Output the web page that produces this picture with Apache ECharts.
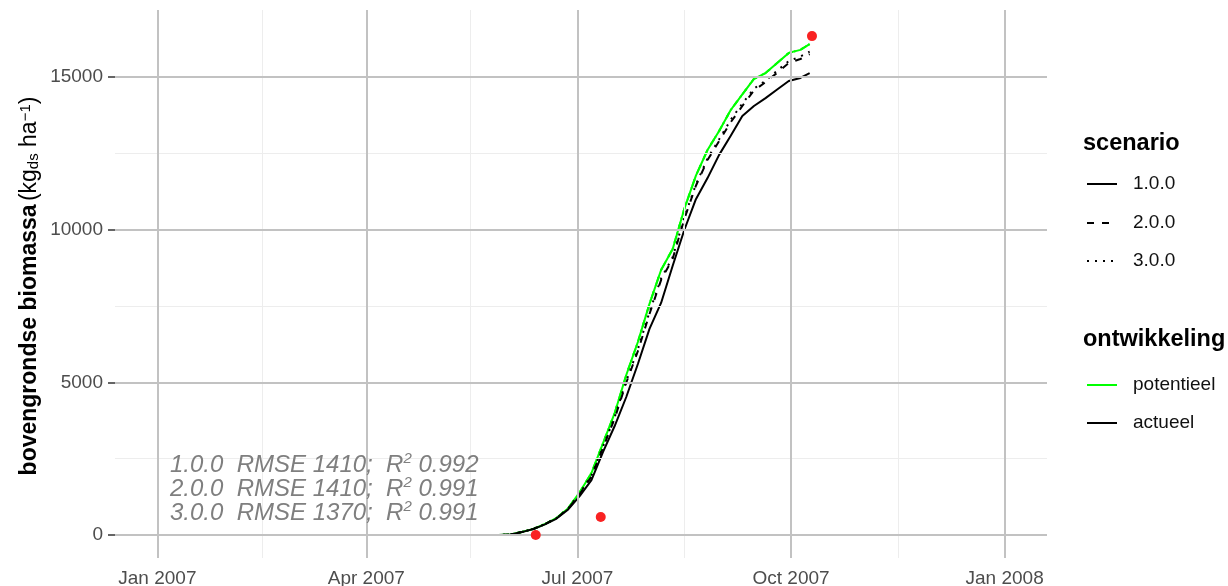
<!DOCTYPE html>
<html>
<head>
<meta charset="utf-8">
<script src="https://cdn.jsdelivr.net/npm/echarts@6/dist/echarts.min.js"></script>
<style>
html,body{margin:0;padding:0;background:#fff;}
#chart{width:1228px;height:586px;}
</style>
</head>
<body>
<div id="chart"></div>
<script>
// ---- data ----
const dates = ['2007-05-23','2007-05-28','2007-06-02','2007-06-07','2007-06-12','2007-06-17','2007-06-22','2007-06-27','2007-07-02','2007-07-07','2007-07-12','2007-07-17','2007-07-22','2007-07-27','2007-08-01','2007-08-06','2007-08-11','2007-08-16','2007-08-21','2007-08-26','2007-08-31','2007-09-05','2007-09-10','2007-09-15','2007-09-20','2007-09-25','2007-09-30','2007-10-05','2007-10-09'];
const potentieel = [0,0,15,100,200,360,560,880,1410,2030,3010,3990,5240,6320,7570,8680,9370,10680,11770,12610,13230,13920,14430,14940,15130,15460,15790,15890,16080];
const actueel_1 = [0,0,15,95,195,350,540,840,1280,1800,2720,3570,4520,5600,6750,7600,8820,9990,11000,11690,12450,13080,13720,14050,14310,14590,14870,14970,15130];
const actueel_2 = [0,0,15,100,200,358,555,860,1350,1910,2860,3810,4990,6020,7240,8350,9050,10350,11440,12280,12900,13520,14050,14560,14830,15140,15460,15590,15750];
const actueel_3 = [0,0,15,100,200,360,558,870,1370,1950,2900,3860,5040,6080,7300,8400,9100,10400,11480,12330,12960,13600,14130,14620,14880,15210,15520,15670,15830];
const obsDates = ['2007-06-13','2007-07-11','2007-10-10'];
const obsValues = [0, 590, 16340];
const xTickDates = ['2007-01-01','2007-04-01','2007-07-01','2007-10-01','2008-01-01'];
const xTickLabels = ['Jan 2007','Apr 2007','Jul 2007','Oct 2007','Jan 2008'];
const xMinorDates = ['2007-02-15','2007-05-16','2007-08-16','2007-11-16'];
const yTicks = [0, 5000, 10000, 15000];
const yMinor = [2500, 7500, 12500];
const scenarioLabels = ['1.0.0','2.0.0','3.0.0'];
const devLabels = ['potentieel','actueel'];
const statScen = ['1.0.0','2.0.0','3.0.0'];
const statRmse = ['1410','1410','1370'];
const statR2 = ['0.992','0.991','0.991'];

// ---- helpers ----
function ts(s){ const p = s.split('-').map(Number); return Date.UTC(p[0], p[1]-1, p[2]); }
const DAY = 86400000;
const FONT = 'Liberation Sans, Arial, sans-serif';
const xMin = ts('2007-01-01') - 18.25*DAY;
const xMax = ts('2008-01-01') + 18.25*DAY;
const xTickVals = xTickDates.map(ts);
const dashStyles = ['solid', [7,8], [2,6]];

const chart = echarts.init(document.getElementById('chart'), null, {renderer:'canvas'});

const gridLines = [];
xMinorDates.forEach(d => gridLines.push({xAxis: ts(d), lineStyle:{color:'#ededed', width:1, type:'solid'}}));
yMinor.forEach(v => gridLines.push({yAxis: v, lineStyle:{color:'#ededed', width:1, type:'solid'}}));
xTickVals.forEach(v => gridLines.push({xAxis: v, lineStyle:{color:'#c2c2c2', width:2, type:'solid'}}));
yTicks.forEach(v => gridLines.push({yAxis: v, lineStyle:{color:'#c2c2c2', width:2, type:'solid'}}));

const series = [{
  type:'line', data:[[xMin, -5000]], showSymbol:false, silent:true, z:1,
  lineStyle:{width:0},
  markLine:{silent:true, symbol:'none', animation:false, label:{show:false}, lineStyle:{type:'solid'}, data: gridLines}
}];
const pair = arr => dates.map((d,i) => [ts(d), arr[i]]);
scenarioLabels.forEach((s, i) => {
  series.push({type:'line', name:'potentieel '+s, data: pair(potentieel), showSymbol:false, symbol:'none', silent:true, z:3,
    lineStyle:{color:'#00ff00', width:2, type: dashStyles[i], cap:'butt'}});
});
[actueel_1, actueel_2, actueel_3].forEach((arr, i) => {
  series.push({type:'line', name:'actueel '+scenarioLabels[i], data: pair(arr), showSymbol:false, symbol:'none', silent:true, z:4,
    lineStyle:{color:'#000000', width:2, type: dashStyles[i], cap:'butt'}});
});
series.push({type:'scatter', name:'obs', data: obsDates.map((d,i)=>[ts(d), obsValues[i]]), symbolSize:10, silent:true, z:5,
  itemStyle:{color:'#f92222', opacity:1}});

// ---- graphic: y title, annotation, legend ----
const graphic = [];
graphic.push({
  type:'text', x:30, y:286, rotation: Math.PI/2, z:100,
  style:{
    text:'{b|bovengrondse biomassa} {n|(kg}{sub|ds}{n| ha}{sup|−1}{n|)}',
    align:'center', verticalAlign:'middle',
    rich:{
      b:{fontSize:23, fontWeight:'bold', fontFamily:FONT, fill:'#000'},
      n:{fontSize:23, fontFamily:FONT, fill:'#000'},
      sub:{fontSize:15, fontFamily:FONT, fill:'#000', verticalAlign:'bottom'},
      sup:{fontSize:15, fontFamily:FONT, fill:'#000', verticalAlign:'top'}
    }
  }
});
const annLineY = [465, 489, 513];
statScen.forEach((s, i) => {
  graphic.push({
    type:'text', x:170, y:annLineY[i], z:100,
    style:{
      text:'{m|' + s + '  RMSE ' + statRmse[i] + ';  R}{s|2}{m| ' + statR2[i] + '}',
      align:'left', verticalAlign:'middle',
      rich:{
        m:{fontSize:24, fontStyle:'italic', fontFamily:FONT, fill:'#7f7f7f', lineHeight:27},
        s:{fontSize:15, fontStyle:'italic', fontFamily:FONT, fill:'#7f7f7f', verticalAlign:'top', lineHeight:15}
      }
    }
  });
});
graphic.push({type:'text', x:1083, y:144, z:100, style:{text:'scenario', fontSize:23.5, fontWeight:'bold', fontFamily:FONT, fill:'#000', align:'left', verticalAlign:'middle'}});
const scenY = [184, 223, 261];
scenarioLabels.forEach((s, i) => {
  graphic.push({type:'line', z:100, shape:{x1:1087, y1:scenY[i], x2:1117, y2:scenY[i]},
    style:{stroke:'#000', lineWidth:2, lineDash: i===0 ? null : dashStyles[i]}});
  graphic.push({type:'text', x:1133, y:scenY[i], z:100, style:{text:s, fontSize:19, fontFamily:FONT, fill:'#111', align:'left', verticalAlign:'middle'}});
});
graphic.push({type:'text', x:1083, y:340, z:100, style:{text:'ontwikkeling', fontSize:23.5, fontWeight:'bold', fontFamily:FONT, fill:'#000', align:'left', verticalAlign:'middle'}});
const devY = [385, 423];
const devColors = ['#00ff00', '#000000'];
devLabels.forEach((s, i) => {
  graphic.push({type:'line', z:100, shape:{x1:1087, y1:devY[i], x2:1117, y2:devY[i]}, style:{stroke:devColors[i], lineWidth:2}});
  graphic.push({type:'text', x:1133, y:devY[i], z:100, style:{text:s, fontSize:19, fontFamily:FONT, fill:'#111', align:'left', verticalAlign:'middle'}});
});

const option = {
  animation:false,
  backgroundColor:'#ffffff',
  grid:{left:115, right:181, top:10, bottom:28, containLabel:false, outerBoundsMode:'none'},
  xAxis:{
    type:'value', min:xMin, max:xMax, scale:true,
    axisLine:{show:false},
    axisTick:{show:true, customValues: xTickVals, length:7, lineStyle:{color:'#333333', width:1.5}},
    axisLabel:{customValues: xTickVals, fontSize:19, color:'#4d4d4d', fontFamily:FONT, margin:11,
      formatter: v => { const k = xTickVals.indexOf(v); return k >= 0 ? xTickLabels[k] : ''; }},
    splitLine:{show:false}
  },
  yAxis:{
    type:'value', min:-753, max:17195,
    axisLine:{show:false},
    axisTick:{show:true, customValues: yTicks, length:7, lineStyle:{color:'#333333', width:1.5}},
    axisLabel:{customValues: yTicks, fontSize:19, color:'#4d4d4d', fontFamily:FONT, margin:12,
      formatter: v => String(v)},
    splitLine:{show:false}
  },
  series: series,
  graphic: graphic
};
chart.setOption(option);
</script>
</body>
</html>
